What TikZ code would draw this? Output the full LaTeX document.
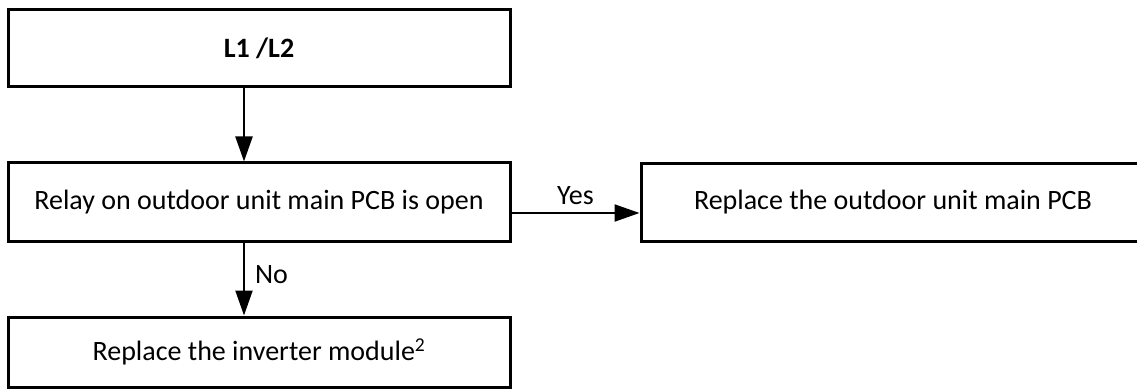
\documentclass[tikz,border=0pt]{standalone}
\usepackage{fontspec}
\setmainfont{Carlito}
\usetikzlibrary{arrows.meta}
\begin{document}
\begin{tikzpicture}[x=1pt,y=-1pt,
  boxstyle/.style={draw, line width=3pt, inner sep=0pt, font=\fontsize{28}{32}\selectfont},
  conn/.style={line width=2.2pt, -{Triangle[length=25pt,width=17pt]}},
  lbl/.style={font=\fontsize{28}{32}\selectfont, inner sep=3pt}]
\useasboundingbox (0,0) rectangle (1137,390);
\begin{scope}
\clip (0,0) rectangle (1137,390);
\node[boxstyle, minimum width=502pt, minimum height=77pt] (b1) at (259,48.5) {\textbf{L1 /L2}};
\node[boxstyle, minimum width=502pt, minimum height=78pt] (b2) at (259,202) {\raisebox{4pt}{Relay on outdoor unit main PCB is open}};
\node[boxstyle, minimum width=504pt, minimum height=77pt] (b3) at (893,202.5) {\raisebox{4pt}{Replace the outdoor unit main PCB}};
\node[boxstyle, minimum width=502pt, minimum height=70pt] (b4) at (259,352) {Replace the inverter module\textsuperscript{2}};
\end{scope}
\draw[conn] (b1.south -| 244,0) -- (b2.north -| 244,0);
\draw[conn] (b2.south -| 244,0) -- node[lbl, right, pos=0.44, inner xsep=10pt] {No} (b4.north -| 244,0);
\draw[conn] (b2.east |- 0,213) -- node[lbl, above, pos=0.5, inner ysep=7pt] {Yes} (b3.west |- 0,213);
\end{tikzpicture}
\end{document}
